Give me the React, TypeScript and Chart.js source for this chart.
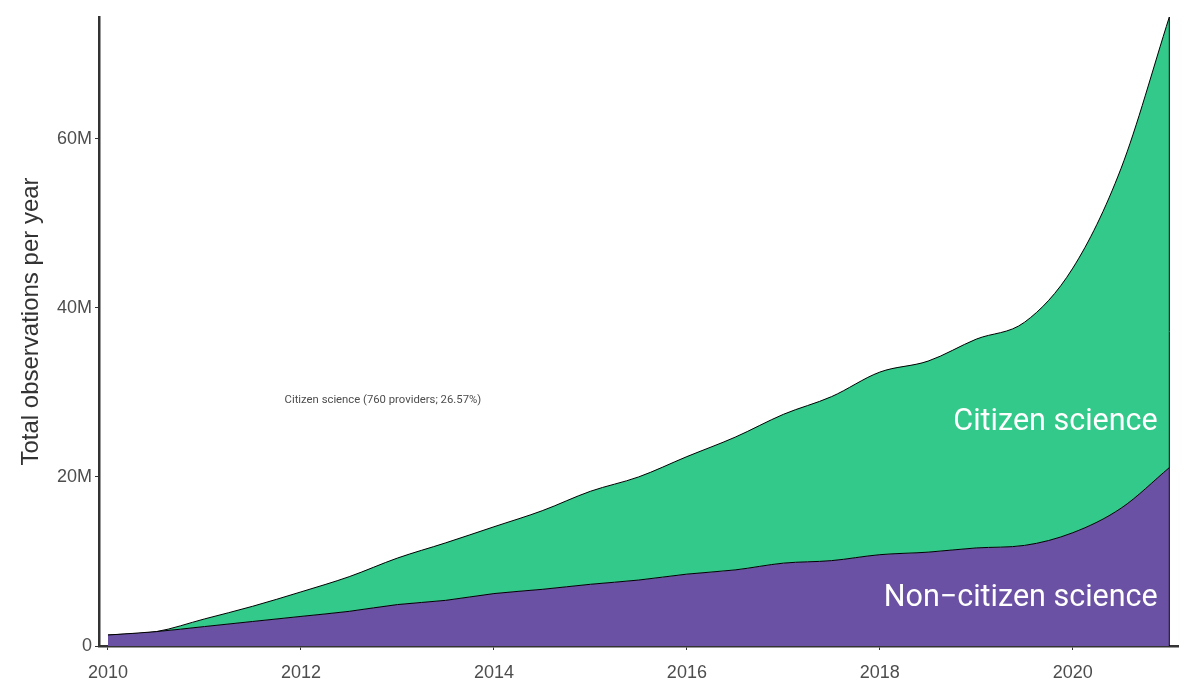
import React, { useEffect, useRef } from "react";
import { Chart, registerables } from "chart.js";

Chart.register(...registerables);

const years = [
  2010, 2010.5, 2011, 2011.5, 2012, 2012.5, 2013, 2013.5, 2014, 2014.5, 2015, 2015.5,
  2016, 2016.5, 2017, 2017.5, 2018, 2018.5, 2019, 2019.5, 2020, 2020.5, 2021,
];
// millions
const nonCitizen = [
  1.3, 1.7, 2.3, 2.9, 3.5, 4.1, 4.9, 5.4, 6.2, 6.7, 7.3, 7.8,
  8.5, 9.0, 9.8, 10.1, 10.8, 11.1, 11.6, 11.9, 13.4, 16.3, 21.1,
];
const citizen = [
  0, 0, 0.9, 1.8, 2.9, 4.1, 5.5, 6.8, 7.9, 9.3, 11.0, 12.2,
  13.9, 15.7, 17.6, 19.4, 21.6, 22.6, 24.7, 26.4, 31.3, 40.2, 53.3,
];
const xTicks = [2010, 2012, 2014, 2016, 2018, 2020];
const yTicks = [0, 20, 40, 60];
const yTitle = "Total observations per year";
const noteText = "Citizen science (760 providers; 26.57%)";
const labelCitizen = "Citizen science";
const labelNon = "Non\u2212citizen science";

const GREEN = "#32C98A";
const PURPLE = "#6A51A3";

export default function App() {
  const ref = useRef<HTMLCanvasElement | null>(null);
  useEffect(() => {
    document.body.style.margin = "0";
    const canvas = ref.current!;
    const M = 1e6;
    const overlay = {
      id: "overlay",
      afterDatasetsDraw(chart: any) {
        const ctx = chart.ctx;
        const xs = chart.scales.x;
        const ys = chart.scales.y;
        ctx.save();
        ctx.strokeStyle = "#000";
        ctx.lineWidth = 1;
        const last = years.length - 1;
        ctx.beginPath();
        ctx.moveTo(xs.getPixelForValue(years[last]), ys.getPixelForValue(0));
        ctx.lineTo(
          xs.getPixelForValue(years[last]),
          ys.getPixelForValue((nonCitizen[last] + citizen[last]) * M)
        );
        ctx.stroke();
        ctx.fillStyle = "#ffffff";
        ctx.font = "30.5px Roboto";
        ctx.textAlign = "right";
        ctx.textBaseline = "middle";
        ctx.fillText(labelCitizen, xs.getPixelForValue(2020.88), ys.getPixelForValue(26.5 * M));
        ctx.fillText(labelNon, xs.getPixelForValue(2020.88), ys.getPixelForValue(5.6 * M));
        ctx.fillStyle = "#4d4d4d";
        ctx.font = "11.3px Roboto";
        ctx.textAlign = "left";
        ctx.fillText(noteText, xs.getPixelForValue(2011.83), ys.getPixelForValue(29.05 * M));
        ctx.fillStyle = "#333333";
        ctx.font = "24px 'Liberation Sans'";
        ctx.textAlign = "center";
        ctx.translate(31, 321.5);
        ctx.rotate(-Math.PI / 2);
        ctx.fillText(yTitle, 0, 0);
        ctx.restore();
      },
    };
    const chart = new Chart(canvas, {
      type: "line",
      data: {
        datasets: [
          {
            label: "Non-citizen science",
            data: years.map((x, i) => ({ x, y: nonCitizen[i] * M })),
            backgroundColor: PURPLE,
            borderColor: "#000",
            borderWidth: 1,
            fill: "origin",
            pointRadius: 0,
            cubicInterpolationMode: "monotone",
          },
          {
            label: "Citizen science",
            data: years.map((x, i) => ({ x, y: citizen[i] * M })),
            backgroundColor: GREEN,
            borderColor: "#000",
            borderWidth: 1,
            fill: "-1",
            pointRadius: 0,
            cubicInterpolationMode: "monotone",
          },
        ],
      },
      options: {
        animation: false,
        responsive: false,
        maintainAspectRatio: false,
        layout: { padding: { left: 0, right: 22, top: 17, bottom: 0 } },
        plugins: { legend: { display: false }, tooltip: { enabled: false } },
        scales: {
          x: {
            type: "linear",
            min: 2009.907,
            max: 2021.09,
            afterBuildTicks: (s: any) => {
              s.ticks = xTicks.map((v) => ({ value: v }));
            },
            afterFit: (s: any) => {
              s.height = 51;
            },
            border: { display: true, color: "#333333", width: 2.5 },
            grid: { display: true, drawOnChartArea: false, drawTicks: true, tickLength: 4, color: "#333333" },
            ticks: {
              color: "#4d4d4d",
              font: { family: "'Liberation Sans'", size: 18 },
              padding: 12,
              maxRotation: 0,
              callback: (v: any) => String(v),
            },
          },
          y: {
            type: "linear",
            stacked: true,
            min: 0,
            max: 74.4 * M,
            afterBuildTicks: (s: any) => {
              s.ticks = yTicks.map((v) => ({ value: v * M }));
            },
            afterFit: (s: any) => {
              s.width = 99;
            },
            border: { display: true, color: "#333333", width: 2.5 },
            grid: { display: true, drawOnChartArea: false, drawTicks: true, tickLength: 4, color: "#333333" },
            ticks: {
              color: "#4d4d4d",
              font: { family: "'Liberation Sans'", size: 18 },
              padding: 3,
              callback: (v: any) => (v === 0 ? "0" : v / M + "M"),
            },
          },
        },
      },
      plugins: [overlay],
    });
    return () => chart.destroy();
  }, []);
  return (
    <div style={{ width: 1200, height: 697 }}>
      <canvas ref={ref} width={1200} height={697} style={{ display: "block" }} />
    </div>
  );
}
